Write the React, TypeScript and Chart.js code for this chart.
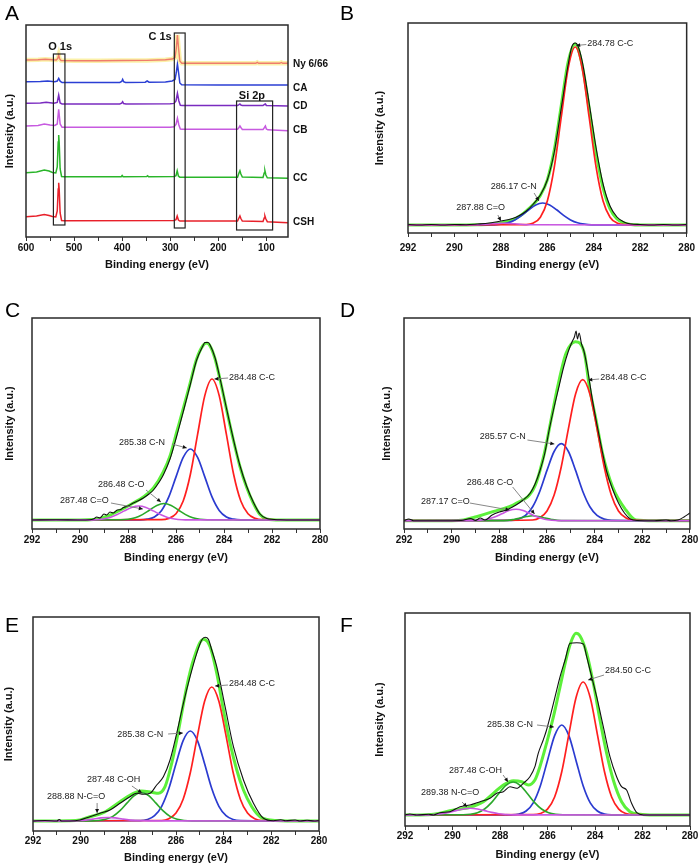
import React, { useEffect, useRef } from "react";
import { Chart, registerables } from "chart.js";
Chart.register(...registerables);

type P = [number, number];
const FONT = '"Liberation Sans", Arial, Helvetica, sans-serif';

// ---------------- Panel A : survey spectra ----------------
const surveyNames = ["Ny 6/66", "CA", "CD", "CB", "CC", "CSH"];
const surveyLabelY = [173, 149, 131, 107, 59, 15];
const surveyNy: P[] = [[600,177],[575,177.3],[560,177.8],[545,177.2],[537,177],[534,178.5],[532,182],[530,178],[527,176.5],[500,176.3],[450,176.3],[400,176.5],[350,176.6],[310,177.2],[296,178],[290,179.5],[287.5,188],[285,202],[282.5,188],[280,176],[276,173.8],[200,173.7],[122,173.7],[119,174.6],[116,173.7],[72,173.7],[69,174.5],[66,173.7],[55,173.7]];
const surveyCA: P[] = [[600,155.3],[570,155.6],[555,156],[540,155.3],[535,156],[532,158.7],[529,155.8],[525,154.5],[405,154.6],[401,155.5],[399,157.7],[397,155.4],[393,154.6],[352,154.8],[348,156],[344,154.8],[310,155],[296,156],[290,157.5],[287.5,164],[285,173],[282.5,164],[280,154],[276,152.2],[200,152],[55,152]];
const surveyCD: P[] = [[600,133.7],[570,134],[558,134.8],[542,133.7],[535,134.5],[532,142],[529,134],[525,133],[405,133],[401,133.8],[399,135.3],[397,133.4],[392,133],[300,133.2],[292,133.6],[288,136],[285,143.7],[282,136],[279,131.8],[275,131.6],[160,131.6],[157,132.3],[155,133],[153,132],[150,131.6],[107,131.4],[104,132.5],[102,133],[100,131.5],[55,131]];
const surveyCB: P[] = [[600,111],[575,111.6],[562,113],[550,112],[540,111.5],[535,113],[532,127.7],[529,113],[525,109.7],[400,109.7],[300,109.8],[292,110.3],[288,112.5],[285,118.7],[282,112],[279,108],[275,107.7],[160,107.7],[157,109.5],[155,111],[153,109.5],[150,107.6],[107,107.4],[104,109.5],[102,111],[100,108],[97,107.2],[55,106.3]];
const surveyCC: P[] = [[600,64.3],[578,65],[562,67],[552,66],[545,64.5],[538,64],[535,70],[533,95],[532,102],[531,95],[529,68],[526,60.5],[520,60.3],[402,60.3],[400,61.5],[398,60.3],[349,60.4],[347,61.3],[345,60.3],[292,60.5],[288,61.3],[285.5,66.3],[283,61],[280,59.8],[160,59.7],[157,64],[155,66.3],[153,63],[150,60],[107,59.5],[104.5,64],[103,66.3],[101,62],[98,59.2],[55,58.7]];
const surveyCSH: P[] = [[600,20.3],[578,21],[562,22.5],[552,21.5],[545,20.5],[538,20],[535,26],[533,48],[532,54.3],[531,48],[529,24],[526,16.5],[520,16.3],[292,16.5],[288,17.3],[285.5,21],[283,17],[280,16],[160,16],[157,19],[155,21],[153,18.5],[150,16],[107,15.5],[104.5,19],[103,21],[101,18],[98,15.3],[55,14.3]];
const surveyBoxes = [
  { name: "O 1s", from: 543, to: 519, low: 12, high: 183, lx: 529, ly: 190 },
  { name: "C 1s", from: 291.5, to: 269, low: 9, high: 204, lx: 321, ly: 200 },
  { name: "Si 2p", from: 162, to: 87, low: 7, high: 136, lx: 130, ly: 141 },
];

// ---------------- Panel B ----------------
const B_raw: P[] = [[292,8.5],[291.5,8],[291,8.5],[290.5,8],[290,8.5],[289.5,8.3],[289,9],[288.5,10],[288.0,12],[287.5,14.5],[287.2,17.5],[286.9,22],[286.6,29],[286.3,38],[286.0,53],[285.7,81],[285.4,125],[285.1,169],[284.95,186],[284.8,190],[284.7,188],[284.5,172],[284.2,130],[283.9,85],[283.6,49],[283.3,27],[283.0,16],[282.7,11],[282.4,9],[282.0,8.5],[281.5,8],[281,8.5],[280.5,8],[280,8.5]];
const B_fit: P[] = [[292,8],[290,8],[289,8.3],[288.5,8.8],[288.0,10],[287.5,13],[287.2,16.8],[286.9,22.2],[286.6,28.7],[286.3,37.6],[286.0,53.1],[285.7,82.9],[285.4,127.5],[285.1,171.4],[284.8,189],[284.5,168],[284.2,125],[283.9,80],[283.6,45],[283.3,24],[283.0,14],[282.7,10],[282.4,8.5],[282,8],[280,8]];
const B_CC: P[] = [[292,8],[286.9,8.4],[286.6,10],[286.3,15.8],[286.0,32],[285.7,65.9],[285.4,116],[285.1,165],[284.8,186],[284.5,165],[284.2,116],[283.9,65.9],[283.6,32],[283.3,15.8],[283.0,10],[282.7,8.4],[280,8]];
const B_CN: P[] = [[292,8],[288.3,8.2],[288.0,8.8],[287.7,10.2],[287.4,13.1],[287.1,17.6],[286.8,23.2],[286.5,28.1],[286.2,30],[285.9,28.1],[285.6,23.2],[285.3,17.6],[285.0,13.1],[284.7,10.2],[284.4,8.8],[284.1,8.2],[280,8]];
const B_CO: P[] = [[292,8],[289.0,8.3],[288.4,9.2],[287.9,9.8],[287.4,9.2],[286.8,8.3],[280,8]];

// ---------------- Panel C ----------------
const C_raw: P[] = [[292,9],[291,9.3],[290,9],[289.6,9.2],[289.44,10],[289.3,12],[289.17,11],[289.0,15],[288.89,14],[288.75,17],[288.61,16],[288.45,19],[288.3,19.5],[288.19,21.5],[288.0,23],[287.78,26],[287.55,28.5],[287.36,31],[287.1,35.5],[286.94,39],[286.7,47],[286.53,54],[286.25,70],[285.97,93],[285.69,118],[285.42,143],[285.14,169],[284.86,184],[284.8,186.5],[284.66,186.5],[284.58,184],[284.37,171],[284.17,151],[283.89,120],[283.61,90],[283.33,63],[283.06,43],[282.78,27],[282.5,15],[282.22,10.5],[281.67,9.2],[281,9],[280,9]];
const C_fit: P[] = [[292,9],[290,9],[289.44,9.5],[289.17,10.5],[288.89,12.5],[288.61,15.5],[288.19,20.5],[287.78,26],[287.36,32],[286.94,41],[286.53,57],[286.25,73],[285.97,97],[285.69,121],[285.42,145],[285.14,170],[284.86,184],[284.72,186],[284.58,183],[284.37,170],[284.17,150],[283.89,119],[283.61,89],[283.33,62],[283.06,42],[282.78,26],[282.5,14.5],[282.22,10],[281.67,9],[280,9]];
const C_CC: P[] = [[292,9],[286.6,9.3],[286.3,10.6],[286.0,15.2],[285.7,28],[285.4,54.8],[285.1,94.6],[284.8,133.4],[284.5,150],[284.2,133.4],[283.9,94.6],[283.6,54.8],[283.3,28],[283.0,15.2],[282.7,10.6],[282.4,9.3],[280,9]];
const C_CN: P[] = [[292,9],[287.5,9.1],[287.2,9.8],[286.9,12.1],[286.6,18.6],[286.3,32.1],[286.0,52.1],[285.7,71.6],[285.4,80],[285.1,71.6],[284.8,52.1],[284.5,32.1],[284.2,18.6],[283.9,12.1],[283.6,9.8],[283.3,9.1],[280,9]];
const C_CO: P[] = [[292,9],[288.3,9.2],[288.0,9.7],[287.7,11.2],[287.4,14.4],[287.1,19],[286.8,23.6],[286.5,25.5],[286.2,23.6],[285.9,19],[285.6,14.4],[285.3,11.2],[285.0,9.7],[284.7,9.2],[280,9]];
const C_CdO: P[] = [[292,9],[289.65,9.1],[289.35,9.3],[289.05,10],[288.75,11.5],[288.45,14.4],[288.15,18.1],[287.85,21.6],[287.55,23],[287.25,21.6],[286.95,18.1],[286.65,14.4],[286.35,11.5],[286.05,10],[285.75,9.3],[285.45,9.1],[280,9]];

// ---------------- Panel D ----------------
const D_raw: P[] = [[292,8.3],[291.8,10],[291.6,8.3],[290.5,8.3],[289.6,8.5],[289.2,10.5],[289.0,8.5],[288.8,11],[288.6,9],[288.3,14],[288.0,17],[287.7,19],[287.3,24],[287.0,29],[286.7,36],[286.5,45],[286.3,58],[286.1,75],[285.9,100],[285.7,122],[285.5,142],[285.3,162],[285.1,178],[284.95,187],[284.85,192],[284.78,198],[284.72,190],[284.65,196],[284.55,185],[284.45,178],[284.3,160],[284.1,130],[283.9,104],[283.7,80],[283.5,58],[283.25,40],[283.0,26],[282.75,16],[282.5,10],[282.2,8.5],[281.5,8.3],[281.0,9],[280.8,8.3],[280.5,9],[280.25,12],[280,16]];
const D_fit: P[] = [[292,8.3],[290,8.3],[289.5,9],[288.96,12.3],[288.27,17.3],[287.29,25.7],[286.52,42.3],[286.11,75.7],[285.83,109],[285.55,142.3],[285.2,175.7],[284.81,187.3],[284.43,175.7],[284.22,142.3],[283.94,109],[283.67,75.7],[283.25,42.3],[282.69,19],[282.27,9],[281.5,8.3],[280,8.3]];
const D_CC: P[] = [[292,8.3],[286.6,9],[286.3,11.3],[286.0,18],[285.7,34],[285.4,62.3],[285.1,100.4],[284.8,135.1],[284.5,149.3],[284.2,135.1],[283.9,100.4],[283.6,62.3],[283.3,34],[283.0,18],[282.7,11.3],[282.4,9],[280,8.3]];
const D_CN: P[] = [[292,8.3],[287.5,8.7],[287.2,9.9],[286.9,13.6],[286.6,22.3],[286.3,37.8],[286.0,58.6],[285.7,77.5],[285.4,85.3],[285.1,77.5],[284.8,58.6],[284.5,37.8],[284.2,22.3],[283.9,13.6],[283.6,9.9],[283.3,8.7],[280,8.3]];
const D_CO: P[] = [[292,8.3],[287.8,8.4],[287.4,9.5],[287.1,11],[286.85,12.5],[286.6,13.3],[286.35,12.5],[286.1,11],[285.8,9.5],[285.4,8.4],[280,8.3]];
const D_CdO: P[] = [[292,8.3],[289.1,8.4],[288.8,8.8],[288.5,9.8],[288.2,12],[287.9,15.2],[287.6,18.4],[287.3,19.7],[287.0,18.4],[286.7,15.2],[286.4,12],[286.1,9.8],[285.8,8.8],[285.5,8.4],[280,8.3]];

// ---------------- Panel E ----------------
const E_raw: P[] = [[292,10],[291.5,10.5],[291,10],[290.9,11.5],[290.8,10],[290.45,10],[290.03,11],[289.61,14.3],[289.19,17.7],[288.77,21],[288.35,27.7],[287.93,34.3],[287.65,37.7],[287.37,36.7],[287.09,37.7],[286.81,46],[286.53,54.3],[286.25,71],[285.97,97.7],[285.69,127.7],[285.41,154.3],[285.13,177.7],[284.92,191],[284.78,193.7],[284.64,191.7],[284.5,181],[284.29,164.3],[283.94,124.3],[283.59,84.3],[283.17,51],[282.75,27.7],[282.33,12.7],[281.91,10.3],[281.6,11.2],[281.4,10.2],[281.0,11],[280.8,10],[280.5,10.8],[280.2,10],[280,10.5]];
const E_fit: P[] = [[292,10],[290.5,10.2],[290.03,11],[289.61,14.3],[289.05,18.3],[288.35,29.3],[287.79,37.7],[287.44,40],[287.02,38.7],[286.74,37.7],[286.46,44.3],[286.18,67.7],[285.97,91],[285.76,117.7],[285.55,144.3],[285.27,171],[284.85,191.7],[284.57,184.3],[284.29,157.7],[284.01,121],[283.73,87.7],[283.45,61],[283.17,41],[282.82,24.3],[282.47,14.3],[282.05,11],[281,10],[280,10]];
const E_CC: P[] = [[292,10],[286.6,10.5],[286.3,12.3],[286.0,17.9],[285.7,31.8],[285.4,58.2],[285.1,95.2],[284.8,129.7],[284.5,144],[284.2,129.7],[283.9,95.2],[283.6,58.2],[283.3,31.8],[283.0,17.9],[282.7,12.3],[282.4,10.5],[280,10]];
const E_CN: P[] = [[292,10],[287.5,10.4],[287.2,11.5],[286.9,15.3],[286.6,24.7],[286.3,42.4],[286.0,67.2],[285.7,90.4],[285.4,100],[285.1,90.4],[284.8,67.2],[284.5,42.4],[284.2,24.7],[283.9,15.3],[283.6,11.5],[283.3,10.4],[280,10]];
const E_COH: P[] = [[292,10],[289.55,10.1],[289.25,10.5],[288.95,11.7],[288.65,14.6],[288.35,20.3],[288.05,28.1],[287.75,35.5],[287.45,38.5],[287.15,35.5],[286.85,28.1],[286.55,20.3],[286.25,14.6],[285.95,11.7],[285.65,10.5],[285.35,10.1],[280,10]];
const E_NCO: P[] = [[292,10],[290.6,10.1],[290.0,10.5],[289.45,12],[289.15,13.1],[288.85,13.5],[288.55,13.1],[288.25,12],[287.7,10.5],[287.1,10.1],[280,10]];

// ---------------- Panel F ----------------
const F_raw: P[] = [[292,11],[291.8,12],[291.5,11],[291.0,11.8],[290.8,11],[290.53,13.3],[290.11,14.3],[289.68,19.3],[289.26,21],[288.84,24.3],[288.42,27.7],[288.14,32.7],[287.86,34.3],[287.58,39.3],[287.3,37.7],[287.02,42.7],[286.74,49.3],[286.53,59.3],[286.39,72.7],[286.18,86],[286.04,96],[285.89,109.3],[285.68,129.3],[285.47,149.3],[285.26,166],[285.05,182.7],[284.77,183.3],[284.49,182],[284.35,169.3],[284.14,149.3],[283.93,129.3],[283.65,99.3],[283.37,69.3],[283.09,49.3],[282.88,39.3],[282.67,36],[282.46,22.7],[282.24,13.3],[281.96,11],[281.54,11],[280,11]];
const F_fit: P[] = [[292,11],[291,11.2],[290.53,12.7],[290.11,15.3],[289.68,17],[289.26,18.7],[288.7,24.3],[288.28,32.7],[287.86,41],[287.44,45.3],[287.09,44.3],[286.81,41],[286.53,46],[286.32,59.3],[286.04,82.7],[285.75,109.3],[285.47,139.3],[285.19,169.3],[284.98,186],[284.8,192.7],[284.63,190],[284.35,172.7],[284.07,142.7],[283.79,106],[283.51,72.7],[283.23,46],[282.88,24.3],[282.53,14.3],[282.11,11.7],[281.5,11],[280,11]];
const F_CC: P[] = [[292,11],[286.6,11.3],[286.3,12.5],[286.0,16.9],[285.7,29],[285.4,54.2],[285.1,91.7],[284.8,128.3],[284.5,144],[284.2,128.3],[283.9,91.7],[283.6,54.2],[283.3,29],[283.0,16.9],[282.7,12.5],[282.4,11.3],[280,11]];
const F_CN: P[] = [[292,11],[287.5,11.2],[287.2,12],[286.9,15],[286.6,23.2],[286.3,40.3],[286.0,65.6],[285.7,90.4],[285.4,101],[285.1,90.4],[284.8,65.6],[284.5,40.3],[284.2,23.2],[283.9,15],[283.6,12],[283.3,11.2],[280,11]];
const F_COH: P[] = [[292,11],[289.55,11.2],[289.25,11.7],[288.95,13.3],[288.65,17],[288.35,23.6],[288.05,32.5],[287.75,40.7],[287.45,44],[287.15,40.7],[286.85,32.5],[286.55,23.6],[286.25,17],[285.95,13.3],[285.65,11.7],[285.35,11.2],[280,11]];
const F_NCO: P[] = [[292,11],[291.05,11.1],[290.75,11.5],[290.45,12.2],[290.15,13.6],[289.85,15.4],[289.55,17],[289.25,17.7],[288.95,17],[288.65,15.4],[288.35,13.6],[288.05,12.2],[287.75,11.5],[287.45,11.1],[280,11]];

// ---------------- labels with arrows ----------------
const notesB = [
  { text: "284.78 C-C", tx: 284.28, ty: 189, x0: 284.32, y0: 188.5, x1: 284.76, y1: 187.5 },
  { text: "286.17 C-N", tx: 288.44, ty: 46, x0: 286.57, y0: 40, x1: 286.36, y1: 32 },
  { text: "287.88 C=O", tx: 289.92, ty: 25, x0: 288.13, y0: 18, x1: 288.0, y1: 12 },
];
const notesC = [
  { text: "284.48 C-C", tx: 283.79, ty: 151, x0: 283.83, y0: 151, x1: 284.4, y1: 150 },
  { text: "285.38 C-N", tx: 288.38, ty: 86, x0: 286.17, y0: 85, x1: 285.55, y1: 81 },
  { text: "286.48 C-O", tx: 289.25, ty: 44, x0: 287.25, y0: 39, x1: 286.63, y1: 27 },
  { text: "287.48 C=O", tx: 290.83, ty: 28, x0: 288.71, y0: 26, x1: 287.38, y1: 20 },
];
const notesD = [
  { text: "284.48 C-C", tx: 283.76, ty: 151, x0: 283.81, y0: 150, x1: 284.27, y1: 149 },
  { text: "285.57 C-N", tx: 288.82, ty: 92, x0: 286.82, y0: 89, x1: 285.69, y1: 85 },
  { text: "286.48 C-O", tx: 289.37, ty: 46, x0: 287.44, y0: 42, x1: 286.52, y1: 15 },
  { text: "287.17 C=O", tx: 291.29, ty: 27, x0: 289.24, y0: 26, x1: 287.57, y1: 19 },
];
const notesE = [
  { text: "284.48 C-C", tx: 283.78, ty: 147, x0: 283.82, y0: 146, x1: 284.36, y1: 145 },
  { text: "285.38 C-N", tx: 288.47, ty: 96, x0: 286.33, y0: 97, x1: 285.71, y1: 98 },
  { text: "287.48 C-OH", tx: 289.73, ty: 51, x0: 287.85, y0: 45, x1: 287.43, y1: 38 },
  { text: "288.88 N-C=O", tx: 291.41, ty: 34, x0: 289.31, y0: 28, x1: 289.31, y1: 18 },
];
const notesF = [
  { text: "284.50 C-C", tx: 283.58, ty: 155, x0: 283.62, y0: 151, x1: 284.29, y1: 146 },
  { text: "285.38 C-N", tx: 288.55, ty: 101, x0: 286.44, y0: 101, x1: 285.73, y1: 99 },
  { text: "287.48 C-OH", tx: 290.15, ty: 55, x0: 287.87, y0: 51, x1: 287.66, y1: 44 },
  { text: "289.38 N-C=O", tx: 291.33, ty: 33, x0: 289.6, y0: 24, x1: 289.39, y1: 19 },
];

// ---------------- styles ----------------
const COL = { raw: "#111111", fit: "#5cf03a", cc: "#ff1f1f", cn: "#2b3bd0", co: "#2aa82a", cdo: "#c856e0" };
const SURVEY_COL = ["#f07c6c", "#2b3fd4", "#7a2bc0", "#c75ae0", "#2ab52a", "#e8202a"];

type Series = { data: P[]; color: string; width: number; smooth: boolean };

function xpsSeries(raw: P[], fit: P[], cc: P[], cn: P[], comps: { d: P[]; c: string }[]): Series[] {
  const s: Series[] = [{ data: raw, color: COL.raw, width: 1.1, smooth: true }];
  comps.forEach((k) => s.push({ data: k.d, color: k.c, width: 1.6, smooth: true }));
  s.push({ data: cc, color: COL.cc, width: 1.7, smooth: true });
  s.push({ data: cn, color: COL.cn, width: 1.7, smooth: true });
  s.push({ data: fit, color: COL.fit, width: 3, smooth: true });
  return s;
}

const framePlugin = {
  id: "frame",
  afterDraw(chart: any) {
    const { ctx, chartArea: a } = chart;
    ctx.save();
    ctx.strokeStyle = "#2a2a2a";
    ctx.lineWidth = 1.5;
    ctx.strokeRect(a.left, a.top, a.right - a.left, a.bottom - a.top);
    ctx.restore();
  },
};

function notesPlugin(notes: any[]) {
  return {
    id: "notes",
    afterDatasetsDraw(chart: any) {
      const { ctx, scales } = chart;
      const X = (v: number) => scales.x.getPixelForValue(v);
      const Y = (v: number) => scales.y.getPixelForValue(v);
      ctx.save();
      for (const n of notes) {
        const x0 = X(n.x0), y0 = Y(n.y0), x1 = X(n.x1), y1 = Y(n.y1);
        ctx.strokeStyle = "#7a7a7a";
        ctx.lineWidth = 0.9;
        ctx.beginPath();
        ctx.moveTo(x0, y0);
        ctx.lineTo(x1, y1);
        ctx.stroke();
        const ang = Math.atan2(y1 - y0, x1 - x0);
        const L = 4.5;
        ctx.fillStyle = "#111";
        ctx.beginPath();
        ctx.moveTo(x1, y1);
        ctx.lineTo(x1 - L * Math.cos(ang - 0.45), y1 - L * Math.sin(ang - 0.45));
        ctx.lineTo(x1 - L * Math.cos(ang + 0.45), y1 - L * Math.sin(ang + 0.45));
        ctx.closePath();
        ctx.fill();
        ctx.font = `9px ${FONT}`;
        ctx.fillStyle = "#222";
        ctx.textBaseline = "middle";
        ctx.textAlign = "left";
        ctx.fillText(n.text, X(n.tx), Y(n.ty));
      }
      ctx.restore();
    },
  };
}

const surveyPlugin = {
  id: "survey",
  afterDatasetsDraw(chart: any) {
    const { ctx, scales, chartArea } = chart;
    const X = (v: number) => scales.x.getPixelForValue(v);
    const Y = (v: number) => scales.y.getPixelForValue(v);
    ctx.save();
    ctx.strokeStyle = "#222";
    ctx.lineWidth = 1.2;
    ctx.fillStyle = "#111";
    ctx.textAlign = "center";
    ctx.textBaseline = "middle";
    ctx.font = `bold 11px ${FONT}`;
    for (const b of surveyBoxes) {
      const l = X(b.from), r = X(b.to), t = Y(b.high), bt = Y(b.low);
      ctx.strokeRect(l, t, r - l, bt - t);
      ctx.fillText(b.name, X(b.lx), Y(b.ly));
    }
    ctx.textAlign = "left";
    ctx.font = `bold 10px ${FONT}`;
    surveyNames.forEach((n, i) => ctx.fillText(n, chartArea.right + 5, Y(surveyLabelY[i])));
    ctx.restore();
  },
};

type Spec = {
  letter: string; lx: number; ly: number;
  left: number; top: number; w: number; h: number;
  area: { l: number; r: number; t: number; b: number };
  xMin: number; xMax: number; step: number; every: number; yMax: number;
  tickPad: number; xTitlePad: number; yTitlePad: number;
  series: Series[]; plugins: any[];
};

const surveySeries: Series[] = [
  { data: surveyNy, color: SURVEY_COL[0], width: 1.4, smooth: false },
  { data: surveyNy, color: "rgba(250,236,140,0.75)", width: 4.5, smooth: false },
  { data: surveyCA, color: SURVEY_COL[1], width: 1.5, smooth: false },
  { data: surveyCD, color: SURVEY_COL[2], width: 1.5, smooth: false },
  { data: surveyCB, color: SURVEY_COL[3], width: 1.5, smooth: false },
  { data: surveyCC, color: SURVEY_COL[4], width: 1.5, smooth: false },
  { data: surveyCSH, color: SURVEY_COL[5], width: 1.5, smooth: false },
];

const panels: Spec[] = [
  { letter: "A", lx: 5, ly: 2, left: 0, top: 0, w: 345, h: 285, area: { l: 26, r: 288, t: 25, b: 237 },
    xMin: 55, xMax: 600, step: 50, every: 100, yMax: 212, tickPad: 1, xTitlePad: 13.4, yTitlePad: 3.4,
    series: surveySeries, plugins: [surveyPlugin] },
  { letter: "B", lx: 340, ly: 2, left: 350, top: 0, w: 350, h: 285, area: { l: 408, r: 691, t: 23, b: 233 },
    xMin: 280, xMax: 292, step: 1, every: 2, yMax: 210, tickPad: 5, xTitlePad: 13.4, yTitlePad: 23.4,
    series: xpsSeries(B_raw, B_fit, B_CC, B_CN, [{ d: B_CO, c: COL.cdo }]), plugins: [notesPlugin(notesB)] },
  { letter: "C", lx: 5, ly: 299, left: 0, top: 290, w: 345, h: 290, area: { l: 32, r: 320, t: 318, b: 529 },
    xMin: 280, xMax: 292, step: 1, every: 2, yMax: 211, tickPad: 1.7, xTitlePad: 15.1, yTitlePad: 3.4,
    series: xpsSeries(C_raw, C_fit, C_CC, C_CN, [{ d: C_CdO, c: COL.cdo }, { d: C_CO, c: COL.co }]), plugins: [notesPlugin(notesC)] },
  { letter: "D", lx: 340, ly: 299, left: 350, top: 290, w: 350, h: 290, area: { l: 404, r: 691, t: 318, b: 529 },
    xMin: 280, xMax: 292, step: 1, every: 2, yMax: 211, tickPad: 1.7, xTitlePad: 15.1, yTitlePad: 30.1,
    series: xpsSeries(D_raw, D_fit, D_CC, D_CN, [{ d: D_CdO, c: COL.cdo }, { d: D_CO, c: COL.co }]), plugins: [notesPlugin(notesD)] },
  { letter: "E", lx: 5, ly: 614, left: 0, top: 580, w: 345, h: 287, area: { l: 33, r: 319, t: 617, b: 831 },
    xMin: 280, xMax: 292, step: 1, every: 2, yMax: 214, tickPad: 0.7, xTitlePad: 2.1, yTitlePad: 2.7,
    series: xpsSeries(E_raw, E_fit, E_CC, E_CN, [{ d: E_NCO, c: COL.cdo }, { d: E_COH, c: COL.co }]), plugins: [notesPlugin(notesE)] },
  { letter: "F", lx: 340, ly: 614, left: 350, top: 580, w: 350, h: 287, area: { l: 405, r: 690, t: 613, b: 826 },
    xMin: 280, xMax: 292, step: 1, every: 2, yMax: 213, tickPad: 0.7, xTitlePad: 5.4, yTitlePad: 23.4,
    series: xpsSeries(F_raw, F_fit, F_CC, F_CN, [{ d: F_NCO, c: COL.cdo }, { d: F_COH, c: COL.co }]), plugins: [notesPlugin(notesF)] },
];

function makeConfig(s: Spec): any {
  return {
    type: "line",
    data: {
      datasets: s.series.map((d) => ({
        data: d.data,
        borderColor: d.color,
        borderWidth: d.width,
        pointRadius: 0,
        fill: false,
        tension: 0,
        cubicInterpolationMode: d.smooth ? "monotone" : "default",
      })),
    },
    options: {
      responsive: false,
      animation: false,
      devicePixelRatio: 1,
      events: [],
      layout: { padding: { left: 0, top: s.area.t - s.top, right: s.left + s.w - s.area.r, bottom: 0 } },
      plugins: { legend: { display: false }, tooltip: { enabled: false }, title: { display: false } },
      scales: {
        x: {
          type: "linear",
          min: s.xMin,
          max: s.xMax,
          reverse: true,
          afterFit: (sc: any) => { sc.height = s.top + s.h - s.area.b; },
          border: { display: false },
          grid: { drawOnChartArea: false, drawTicks: true, tickLength: 4, color: "#333", lineWidth: 1 },
          ticks: {
            stepSize: s.step,
            autoSkip: false,
            maxRotation: 0,
            includeBounds: false,
            padding: s.tickPad,
            color: "#111",
            font: { family: FONT, size: 10, weight: "bold" },
            callback: (v: any) => (Math.round(Number(v)) % s.every === 0 ? String(Math.round(Number(v))) : ""),
          },
          title: {
            display: true,
            text: "Binding energy (eV)",
            color: "#111",
            font: { family: FONT, size: 11, weight: "bold" },
            padding: { top: 0, bottom: s.xTitlePad },
          },
        },
        y: {
          type: "linear",
          min: 0,
          max: s.yMax,
          afterFit: (sc: any) => { sc.width = s.area.l - s.left; },
          border: { display: false },
          grid: { display: false },
          ticks: { display: false },
          title: {
            display: true,
            text: "Intensity (a.u.)",
            color: "#111",
            font: { family: FONT, size: 11, weight: "bold" },
            padding: { top: s.yTitlePad, bottom: 0 },
          },
        },
      },
    },
    plugins: [framePlugin, ...s.plugins],
  };
}

function Panel({ spec }: { spec: Spec }) {
  const ref = useRef<HTMLCanvasElement>(null);
  useEffect(() => {
    if (!ref.current) return;
    const chart = new Chart(ref.current, makeConfig(spec));
    return () => chart.destroy();
  }, [spec]);
  return (
    <canvas
      ref={ref}
      width={spec.w}
      height={spec.h}
      style={{ position: "absolute", left: spec.left, top: spec.top, width: spec.w, height: spec.h }}
    />
  );
}

export default function App() {
  return (
    <div style={{ position: "absolute", left: 0, top: 0, width: 700, height: 867, background: "#fff", overflow: "hidden" }}>
      {panels.map((p) => (
        <Panel key={p.letter} spec={p} />
      ))}
      {panels.map((p) => (
        <div
          key={"L" + p.letter}
          style={{ position: "absolute", left: p.lx, top: p.ly, font: `21px ${FONT}`, lineHeight: "21px", color: "#000" }}
        >
          {p.letter}
        </div>
      ))}
    </div>
  );
}
